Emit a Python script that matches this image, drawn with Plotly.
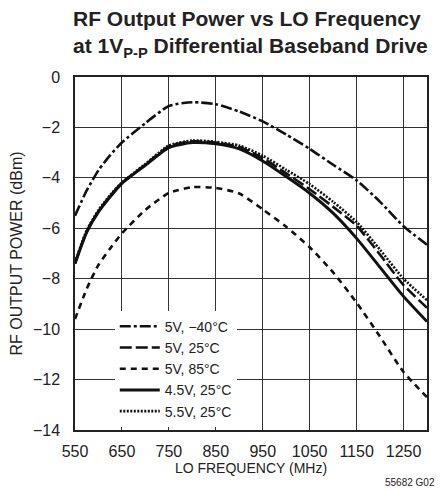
import plotly.graph_objects as go

freq = [550, 575, 600, 625, 650, 700, 750, 800, 850, 900, 950, 1000, 1050, 1100, 1150, 1200, 1250, 1300]

p5v_m40 = [-5.5, -4.5, -3.7, -3.1, -2.6, -1.83, -1.15, -1.0, -1.08, -1.37, -1.76, -2.28, -2.85, -3.48, -4.1, -4.95, -5.92, -6.65]
p5v_25 = [-7.4, -6.12, -5.32, -4.72, -4.2, -3.48, -2.75, -2.55, -2.6, -2.78, -3.22, -3.82, -4.45, -5.15, -5.9, -7.05, -8.25, -9.15]
p5v_85 = [-9.6, -8.4, -7.45, -6.8, -6.2, -5.27, -4.6, -4.37, -4.4, -4.62, -5.25, -5.94, -6.75, -7.75, -8.95, -10.3, -11.7, -12.7]
p45v_25 = [-7.4, -6.15, -5.35, -4.75, -4.22, -3.5, -2.8, -2.6, -2.65, -2.85, -3.33, -3.95, -4.61, -5.4, -6.4, -7.55, -8.7, -9.7]
p55v_25 = [-7.35, -6.08, -5.28, -4.68, -4.18, -3.45, -2.72, -2.52, -2.57, -2.72, -3.12, -3.68, -4.25, -4.95, -5.75, -6.85, -8.0, -8.85]

labels = ["5V, \u221240\u00b0C", "5V, 25\u00b0C", "5V, 85\u00b0C", "4.5V, 25\u00b0C", "5.5V, 25\u00b0C"]
x_ticks = [550, 650, 750, 850, 950, 1050, 1150, 1250]
y_ticks = [0, -2, -4, -6, -8, -10, -12, -14]

FONT = "Liberation Sans, Arial, sans-serif"

series = [
    (p5v_m40, labels[0], "11px,3px,3px,3px", 2.6),
    (p5v_25, labels[1], "12px,4px", 2.6),
    (p5v_85, labels[2], "6px,5px", 2.6),
    (p45v_25, labels[3], "solid", 3.0),
    (p55v_25, labels[4], "2px,1.5px", 2.6),
]

fig = go.Figure()
for ys, name, dash, w in series:
    fig.add_trace(go.Scatter(
        x=freq, y=ys, name=name, mode="lines",
        line=dict(color="#111111", width=w, dash=dash, shape="spline", smoothing=0.6),
    ))

fig.update_layout(
    width=447, height=490,
    margin=dict(l=75, r=20, t=77, b=60),
    paper_bgcolor="white", plot_bgcolor="white",
    font=dict(family=FONT, color="#222222", size=16),
    title=dict(
        text="RF Output Power vs LO Frequency<br>at 1V<sub>P-P</sub> Differential Baseband Drive",
        font=dict(family=FONT, size=21, color="#222222", weight="bold"),
        x=73 / 447, xanchor="left", xref="container",
        y=0.947, yanchor="top", yref="container",
    ),
    showlegend=True,
    legend=dict(
        x=0.113, y=0.338, xanchor="left", yanchor="top",
        bgcolor="white", borderwidth=0,
        font=dict(family=FONT, size=14, color="#222222"),
        tracegroupgap=0, itemwidth=40,
    ),
    xaxis=dict(
        range=[550, 1300], tickvals=x_ticks, showgrid=True, gridcolor="#333333", gridwidth=1,
        showline=True, linecolor="#222222", linewidth=1.5, mirror=True, zeroline=False,
        ticks="", ticklabelstandoff=6, automargin=False,
        title=dict(text="LO FREQUENCY (MHz)", font=dict(family=FONT, size=14), standoff=4),
        tickfont=dict(family=FONT, size=16),
    ),
    yaxis=dict(
        range=[-14, 0], tickvals=y_ticks, showgrid=True, gridcolor="#333333", gridwidth=1,
        showline=True, linecolor="#222222", linewidth=1.5, mirror=True, zeroline=False,
        ticks="", ticklabelstandoff=10, automargin=False,
        title=dict(text="RF OUTPUT POWER (dBm)", font=dict(family=FONT, size=16), standoff=6),
        tickfont=dict(family=FONT, size=16),
    ),
)

fig.add_annotation(
    text="55682 G02", xref="paper", yref="paper", x=1.028, y=-0.128,
    xanchor="right", yanchor="top", showarrow=False,
    font=dict(family=FONT, size=10, color="#222222"),
)

fig.write_html(
    "out.html",
    config={"displayModeBar": False},
    post_script="document.body.style.margin='0';",
)
